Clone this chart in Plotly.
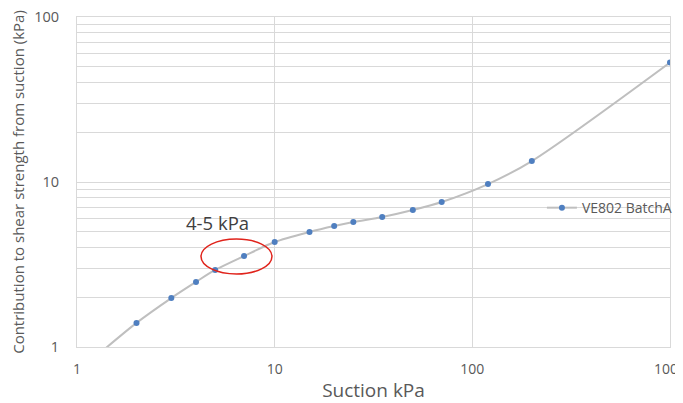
import plotly.graph_objects as go

suction_kpa = [1, 2, 3, 4, 5, 7, 10, 15, 20, 25, 35, 50, 70, 120, 200, 1000]
contribution_kpa = [0.70, 1.40, 1.98, 2.48, 2.93, 3.56, 4.33, 4.98, 5.41, 5.72, 6.14, 6.77, 7.57, 9.72, 13.4, 53.0]
series_name = "VE802 BatchA"
x_tick_vals = [1, 10, 100, 1000]
y_tick_vals = [1, 10, 100]

FONT = "Open Sans"
GRID = "#D9D9D9"
TXT = "#595959"

fig = go.Figure()
fig.add_trace(go.Scatter(
    x=suction_kpa, y=contribution_kpa, name=series_name,
    mode="lines+markers",
    line=dict(color="#BFBFBF", width=2, shape="spline", smoothing=0.8),
    marker=dict(color="#4F7FC0", size=6),
))

fig.add_shape(type="circle", xref="x", yref="y",
              x0=4.24, x1=9.69, y0=2.77, y1=4.51,
              line=dict(color="#E0231B", width=1.5))
fig.add_annotation(x=0.711, y=0.753, xref="x", yref="y", text="4-5 kPa",
                   showarrow=False, font=dict(family=FONT, size=18.5, color="#404040"))

# page body has an 8px margin: figure is 675x395 placed at (8, 8)
fig.update_layout(
    width=675, height=395,
    margin=dict(l=69, r=13, t=9, b=56, autoexpand=False),
    paper_bgcolor="white", plot_bgcolor="white",
    font=dict(family=FONT, size=14, color=TXT),
    showlegend=True,
    legend=dict(x=0.784, y=0.421, xanchor="left", yanchor="middle",
                bgcolor="rgba(0,0,0,0)", font=dict(size=14, color=TXT),
                itemwidth=30, borderwidth=0),
)
fig.update_xaxes(type="log", range=[0, 3], tickvals=x_tick_vals,
                 ticktext=[str(v) for v in x_tick_vals],
                 showgrid=True, gridcolor=GRID, gridwidth=1,
                 showline=True, linecolor=GRID, mirror=True, automargin=False,
                 zeroline=False, ticks="", ticklabelstandoff=9,
                 ticklabeloverflow="allow",
                 tickfont=dict(size=14, color=TXT),
                 title=dict(text="Suction kPa", font=dict(size=19, color=TXT), standoff=6))
fig.update_yaxes(type="log", range=[0, 2], tickvals=y_tick_vals,
                 ticktext=[str(v) for v in y_tick_vals],
                 showgrid=True, gridcolor=GRID, gridwidth=1,
                 minor=dict(dtick="D1", showgrid=True, gridcolor=GRID, ticks=""),
                 showline=True, linecolor=GRID, mirror=True, automargin=False,
                 zeroline=False, ticks="", ticklabelstandoff=14,
                 ticklabeloverflow="allow",
                 tickfont=dict(size=14.5, color=TXT),
                 title=dict(text="Contribution to shear strength from suction (kPa)",
                            font=dict(size=15, color=TXT), standoff=9))

fig.write_html("out.html")
